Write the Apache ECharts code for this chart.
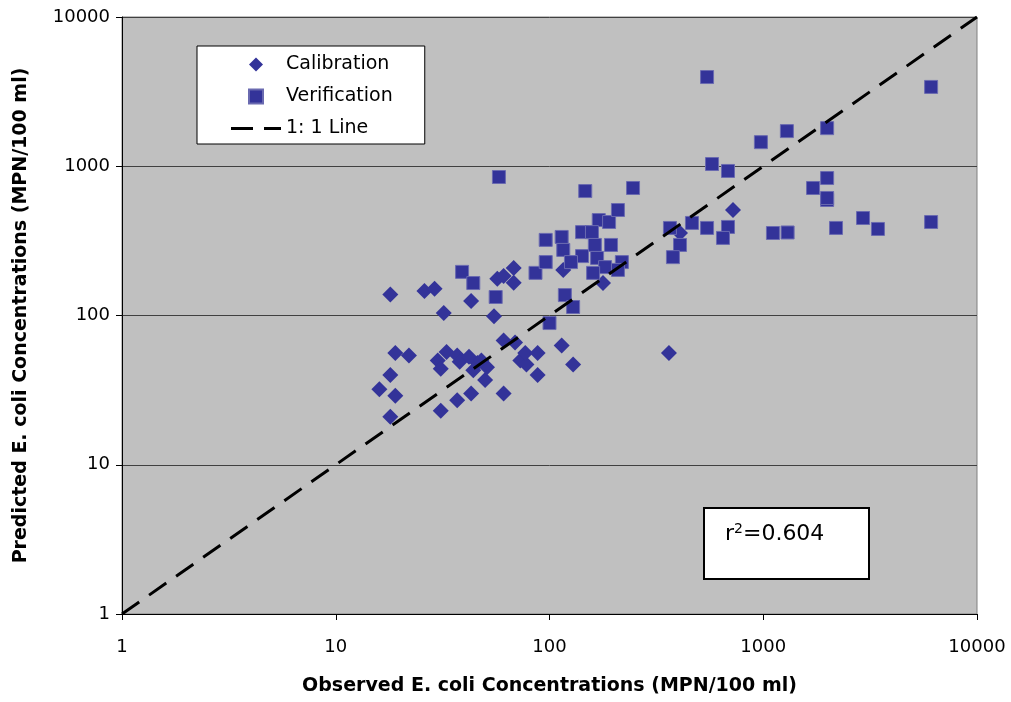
<!DOCTYPE html>
<html>
<head>
<meta charset="utf-8">
<script src="https://cdn.jsdelivr.net/npm/echarts@6/dist/echarts.min.js"></script>
<style>
html,body{margin:0;padding:0;background:#fff;}
#chart{width:1011px;height:702px;}
</style>
</head>
<body>
<div id="chart"></div>
<script>
// Tick values (log axes, 1 .. 10000)
const axisMin = 1;
const axisMax = 10000;

// Calibration points [observed, predicted]
const calibration = [
  [18,138],[16,32],[18,40],[19,56],[22,54],[19,29],[18,21],[26,146],[29,151],[32,104],
  [43,125],[31,23],[37,27],[43,30],[61,30],[50,37],[30,50],[33,57],[31,44],[37,54],
  [38,49],[42,53],[46,48],[44,43],[51,45],[48,50],[61,68],[69,66],[73,50],[78,47],
  [77,56],[88,56],[88,40],[114,63],[129,47],[55,99],[57,176],[61,184],[68,208],[68,166],
  [116,202],[178,165],[408,357],[722,509],[362,56]
];

// Verification points [observed, predicted]
const verification = [
  [58,847],[39,196],[44,165],[56,133],[86,193],[96,321],[96,228],[100,89],[147,682],[246,715],
  [114,336],[116,275],[142,362],[170,436],[190,423],[209,509],[158,362],[163,297],[194,297],[142,250],
  [126,228],[167,243],[182,211],[218,228],[209,202],[160,193],[118,137],[129,114],[366,386],[464,417],
  [546,386],[684,392],[648,331],[408,297],[378,246],[1110,357],[1300,360],[2190,386],[2930,450],[3440,380],
  [6100,423],[1990,594],[546,3960],[6100,3400],[975,1450],[1290,1720],[1990,1800],[576,1035],[684,930],[1710,715],
  [1990,834],[1990,613]
];

// 1:1 line end points
const oneToOne = [[1,1],[10000,10000]];

const r2Text = '0.604';

const chart = echarts.init(document.getElementById('chart'), null, {renderer:'canvas'});
const markColor = '#333399';
const tickFont = {fontFamily:'DejaVu Sans', fontSize:18, color:'#000', formatter:function(v){return String(Math.round(v));}};

chart.setOption({
  animation:false,
  backgroundColor:'#fff',
  grid:{left:122, top:17, right:34, bottom:88, show:true, backgroundColor:'#C0C0C0', borderColor:'#808080', borderWidth:1},
  xAxis:{
    type:'log', logBase:10, min:axisMin, max:axisMax,
    name:'Observed E. coli Concentrations (MPN/100 ml)',
    nameLocation:'middle', nameGap:63,
    nameTextStyle:{fontFamily:'DejaVu Sans', fontWeight:'bold', fontSize:19, color:'#000'},
    axisLine:{show:true, lineStyle:{color:'#000', width:1}},
    axisTick:{show:true, length:6, lineStyle:{color:'#000'}},
    minorTick:{show:false},
    splitLine:{show:false},
    axisLabel:Object.assign({margin:24}, tickFont)
  },
  yAxis:{
    type:'log', logBase:10, min:axisMin, max:axisMax,
    name:'Predicted E. coli Concentrations (MPN/100 ml)',
    nameLocation:'middle', nameGap:91,
    nameTextStyle:{fontFamily:'DejaVu Sans', fontWeight:'bold', fontSize:19, color:'#000'},
    axisLine:{show:true, lineStyle:{color:'#000', width:1}},
    axisTick:{show:true, length:6, lineStyle:{color:'#000'}},
    minorTick:{show:false},
    splitLine:{show:true, lineStyle:{color:'#404040', width:1}},
    axisLabel:Object.assign({margin:12}, tickFont)
  },
  legend:{
    left:197, top:46, orient:'vertical',
    itemWidth:50, itemHeight:14, itemGap:13,
    padding:[9,32,6,34],
    backgroundColor:'#fff', borderColor:'#000', borderWidth:1,
    textStyle:{fontFamily:'DejaVu Sans', fontSize:19, color:'#000'},
    data:[
      {name:'Calibration', icon:'path://M0,-7L7,0L0,7L-7,0Z'},
      {name:'Verification', icon:'path://M0,0L13,0L13,13L0,13Z'},
      {name:'1: 1 Line', icon:'path://M0,0H22V3H0Z M33,0H50V3H33Z', itemStyle:{color:'#000', opacity:1}}
    ]
  },
  series:[
    {
      name:'Calibration', type:'scatter', data:calibration,
      symbol:'diamond', symbolSize:16, z:2,
      itemStyle:{color:markColor, opacity:1}
    },
    {
      name:'Verification', type:'scatter', data:verification,
      symbol:'rect', symbolSize:13, z:2,
      itemStyle:{color:markColor, borderColor:'#6a6ab0', borderWidth:1, opacity:1}
    },
    {
      name:'1: 1 Line', type:'line', data:oneToOne,
      symbol:'none', z:4, silent:true,
      lineStyle:{color:'#000', width:3, type:[21,12]},
      itemStyle:{color:'#000'}
    }
  ],
  graphic:[
    {
      type:'group', left:703, top:507,
      children:[
        {type:'rect', shape:{x:0, y:0, width:165, height:71}, style:{fill:'#fff', stroke:'#000', lineWidth:2}},
        {type:'text', x:21, y:26, style:{
          text:'{a|r}{b|2}{a|=' + r2Text + '}',
          verticalAlign:'middle',
          rich:{
            a:{fontFamily:'DejaVu Sans', fontSize:22, fill:'#000', color:'#000'},
            b:{fontFamily:'DejaVu Sans', fontSize:14, fill:'#000', color:'#000', verticalAlign:'top', padding:[0,0,10,0]}
          }
        }}
      ]
    }
  ]
});
</script>
</body>
</html>
